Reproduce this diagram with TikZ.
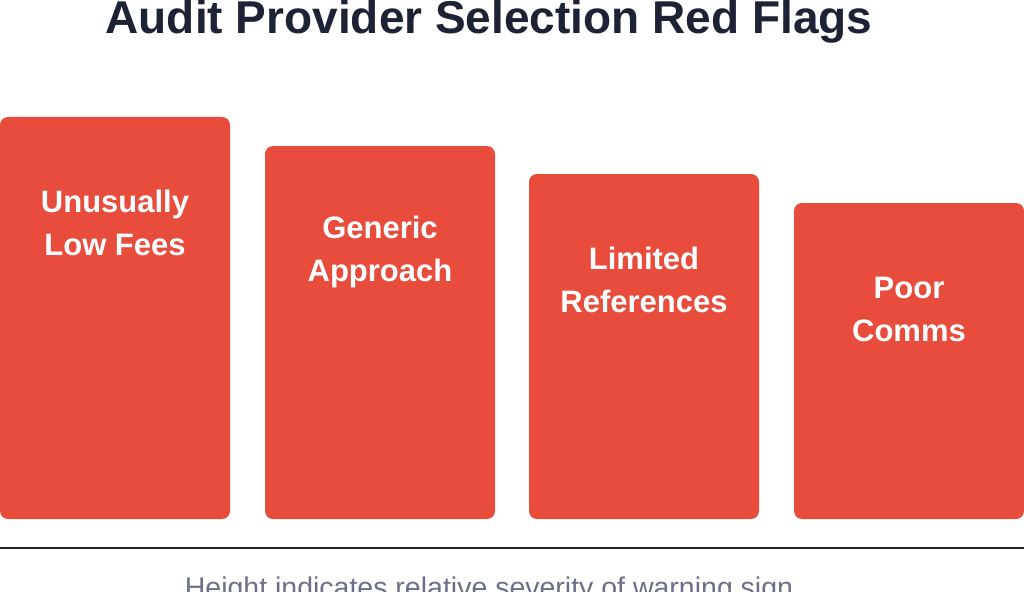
\documentclass[tikz,border=0pt]{standalone}
\usepackage{fontspec}
\setmainfont{Liberation Sans}
\usetikzlibrary{positioning}
\definecolor{flagred}{HTML}{E74C3C}
\definecolor{titleink}{HTML}{1E2235}
\definecolor{noteink}{HTML}{6B6F8A}
\begin{document}
\begin{tikzpicture}[
    x=1pt, y=-1pt,
    % Styles
    bar/.style={% red severity bars
        rectangle,
        rounded corners=8pt,
        fill=flagred,
        draw=none,
        },
    barlabel/.style={% white text in bars
        text=white,
        font=\fontsize{31}{43}\selectfont\bfseries,
        align=center,
        },
    ]
    \clip (0,0) rectangle (1024,591);
    \useasboundingbox (0,0) rectangle (1024,591);

    % Title
    \node[text=titleink, font=\fontsize{46}{52}\selectfont\bfseries] (title) at (489,22) {Audit Provider Selection Red Flags};

    % Bars
    \fill[bar] (0,117) rectangle (230,519);
    \fill[bar] (265,146) rectangle (495,519);
    \fill[bar] (529,174) rectangle (759,519);
    \fill[bar] (794,203) rectangle (1024,519);

    % Labels
    \node[barlabel] (fees) at (115,223) {Unusually\\Low Fees};
    \node[barlabel] (generic) at (380,252) {Generic\\Approach};
    \node[barlabel] (refs) at (644,280) {Limited\\References};
    \node[barlabel] (comms) at (909,309) {Poor\\Comms};

    % Axis and note
    \draw[titleink, line width=2pt] (0,548) coordinate (axl) -- (1024,548) coordinate (axr);
    \node[text=noteink, font=\fontsize{28.5}{32}\selectfont] (note) at (489,590) {Height indicates relative severity of warning sign};
\end{tikzpicture}
\end{document}
